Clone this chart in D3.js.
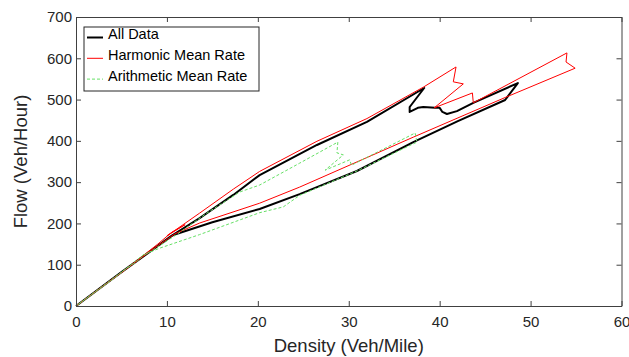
<!DOCTYPE html>
<html>
<head>
<meta charset="utf-8">
<script src="https://cdn.jsdelivr.net/npm/d3@7"></script>
<style>
  body { margin: 0; background: #fff; }
  svg { font-family: "Liberation Sans", Arial, sans-serif; }
</style>
</head>
<body>
<div id="chart"></div>
<script>
// Data (density in veh/mile, flow in veh/hour)
const allDataX = [0, 5, 10.7, 15, 20.2, 24.6, 30.9, 37.1, 42, 47.2, 48.6, 43.7, 41.9, 40.8, 40.3, 40.0, 39.5, 38.2, 37.6, 36.7, 36.7, 38.3, 32.0, 26.5, 20.2, 17.3, 13.6, 10.5, 5, 0];
const allDataY = [0, 82, 172, 203, 235, 271, 327, 397, 448, 499, 540, 492, 472, 465, 470, 480, 480, 482, 480, 470, 482, 528, 446, 390, 317, 269, 213, 170, 82, 0];

const harmonicX = [0, 5, 9, 10.9, 13.6, 20.2, 24.6, 37.1, 47.2, 54.9, 53.9, 54.0, 43.7, 43.6, 39.4, 42.6, 41.5, 41.8, 38.2, 32.0, 26.5, 20.2, 17.3, 13.6, 11, 10, 12, 10.5, 9, 5, 0];
const harmonicY = [0, 81, 146, 175, 201, 249, 288, 409, 505, 576, 591, 613, 492, 516, 480, 538, 543, 579, 530, 454, 399, 326, 283, 225, 185, 170, 197, 178, 150, 81, 0];

const arithmeticX = [0, 5.5, 6.6, 7.4, 8.5, 11, 14.4, 18, 20.2, 24.6, 28.8, 28.7, 29.4, 27.4, 30.1, 30.3, 37.3, 37.5, 30.9, 24.6, 22.8, 20.2, 13.6, 9.2, 7.4, 4, 0];
const arithmeticY = [0, 90, 106, 122, 136, 172, 225, 276, 293, 346, 397, 371, 366, 329, 354, 341, 419, 397, 327, 268, 240, 226, 173, 140, 124, 64, 0];

const xTicks = [0, 10, 20, 30, 40, 50, 60];
const yTicks = [0, 100, 200, 300, 400, 500, 600, 700];

const series = [
    { name: "All Data", xs: allDataX, ys: allDataY, color: "#000", width: 2, dash: null },
    { name: "Harmonic Mean Rate", xs: harmonicX, ys: harmonicY, color: "#ff0000", width: 1, dash: null },
    { name: "Arithmetic Mean Rate", xs: arithmeticX, ys: arithmeticY, color: "#66e066", width: 1, dash: "3,2" }
];

const margin = { top: 17, right: 7.5, bottom: 51, left: 76 };
const width = 629 - margin.left - margin.right;
const height = 357 - margin.top - margin.bottom;

const svg = d3.select("#chart")
    .append("svg")
    .attr("width", 629)
    .attr("height", 357)
    .append("g")
    .attr("transform", "translate(" + margin.left + "," + margin.top + ")");

const xScale = d3.scaleLinear().domain([0, 60]).range([0, width]);
const yScale = d3.scaleLinear().domain([0, 700]).range([height, 0]);

// Lines
const line = d3.line()
    .x(d => xScale(d[0]))
    .y(d => yScale(d[1]));

series.forEach(s => {
    const pts = s.xs.map((x, i) => [x, s.ys[i]]);
    svg.append("path")
        .datum(pts)
        .attr("fill", "none")
        .attr("stroke", s.color)
        .attr("stroke-width", s.width)
        .attr("stroke-linejoin", "round")
        .attr("stroke-dasharray", s.dash)
        .attr("d", line);
});

// Axes with inward ticks on all four sides
function styleAxis(g) {
    g.selectAll("path, line").attr("stroke", "#404040");
    g.selectAll("text").attr("fill", "#262626").attr("font-size", "15px");
}

svg.append("g")
    .attr("transform", "translate(0," + height + ")")
    .call(d3.axisBottom(xScale).tickValues(xTicks).tickSize(-5).tickSizeOuter(0).tickPadding(10))
    .call(styleAxis);

svg.append("g")
    .call(d3.axisTop(xScale).tickValues(xTicks).tickSize(-5).tickSizeOuter(0).tickFormat(""))
    .call(styleAxis);

svg.append("g")
    .call(d3.axisLeft(yScale).tickValues(yTicks).tickSize(-5).tickSizeOuter(0).tickPadding(4))
    .call(styleAxis);

svg.append("g")
    .attr("transform", "translate(" + width + ",0)")
    .call(d3.axisRight(yScale).tickValues(yTicks).tickSize(-5).tickSizeOuter(0).tickFormat(""))
    .call(styleAxis);

// Axis labels
svg.append("text")
    .attr("x", width / 2)
    .attr("y", height + 46)
    .attr("text-anchor", "middle")
    .attr("font-size", "18.5px")
    .attr("fill", "#262626")
    .text("Density (Veh/Mile)");

svg.append("text")
    .attr("transform", "rotate(-90)")
    .attr("x", -height / 2)
    .attr("y", -49)
    .attr("text-anchor", "middle")
    .attr("font-size", "18.5px")
    .attr("fill", "#262626")
    .text("Flow (Veh/Hour)");

// Legend
const legend = svg.append("g").attr("transform", "translate(8,10)");
legend.append("rect")
    .attr("width", 175)
    .attr("height", 64)
    .attr("fill", "#fff")
    .attr("stroke", "#262626")
    .attr("stroke-width", 1);

const item = legend.selectAll(".legend")
    .data(series)
    .enter().append("g")
    .attr("class", "legend")
    .attr("transform", (d, i) => "translate(0," + (10.5 + i * 20.8) + ")");

item.append("line")
    .attr("x1", 3)
    .attr("x2", 19)
    .attr("stroke", d => d.color)
    .attr("stroke-width", d => d.width)
    .attr("stroke-dasharray", d => d.dash);

item.append("text")
    .attr("x", 24)
    .attr("y", 1.8)
    .attr("font-size", "14.5px")
    .attr("fill", "#000")
    .text(d => d.name);
</script>
</body>
</html>
